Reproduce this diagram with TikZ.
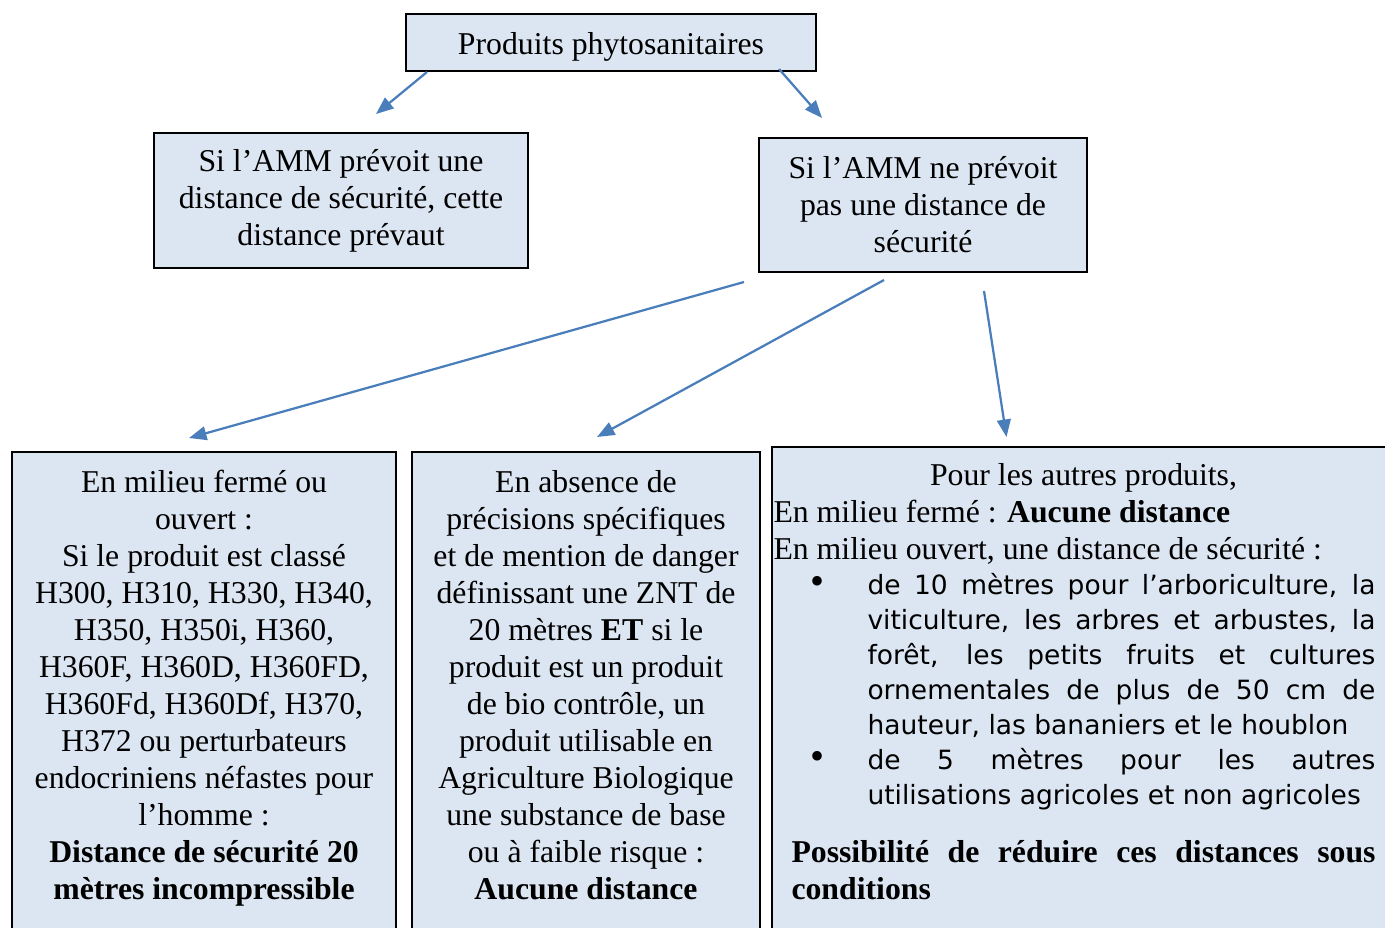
\documentclass[tikz,border=0pt]{standalone}
\usepackage{fontspec}
\setmainfont{Liberation Serif}
\setsansfont{DejaVu Sans}
\usepackage{enumitem}
\usetikzlibrary{calc,positioning,arrows.meta}
\definecolor{boxfill}{RGB}{220,230,242}
\definecolor{arrowblue}{RGB}{74,126,187}

\begin{document}
\begin{tikzpicture}[x=0.4pt,y=-0.4pt,
  font=\fontsize{12.7}{14.8}\selectfont,
  box/.style={draw=black,line width=0.8pt,fill=boxfill,inner sep=0pt,align=center},
  txt/.style={inner sep=0pt,align=center},
  link/.style={draw=arrowblue,line width=0.9pt,-{Triangle[length=7pt,width=5.5pt]}}]

\useasboundingbox (0,0) rectangle (1385,927);
\clip (0,0) rectangle (1385,927);

% upper boxes
\node[box,minimum width=164pt,minimum height=22.8pt,text height=12pt,text depth=2.4pt] (produits) at (611,42.5) {Produits phytosanitaires};
\node[box,minimum width=149.6pt,minimum height=54pt] (ammoui) at (341,200.5)
  {Si l’AMM prévoit une\\distance de sécurité, cette\\distance prévaut};
\node[box,minimum width=131.2pt,minimum height=53.6pt] (ammnon) at (923,205)
  {Si l’AMM ne prévoit\\pas une distance de\\sécurité};

% lower boxes
\node[box,anchor=north west,minimum width=153.6pt,minimum height=200pt] (ferme) at (11,451) {};
\node[box,anchor=north west,minimum width=139.2pt,minimum height=200pt] (absence) at (411,451) {};
\node[box,anchor=north west,minimum width=250pt,minimum height=200pt] (autres) at (771,446) {};

\node[txt,below=7.6pt of ferme.north] (fermetxt)
  {En milieu fermé ou\\ouvert :\\Si le produit est classé\\H300, H310, H330, H340,\\H350, H350i, H360,\\H360F, H360D, H360FD,\\H360Fd, H360Df, H370,\\H372 ou perturbateurs\\endocriniens néfastes pour\\l’homme :\\\textbf{Distance de sécurité 20}\\\textbf{mètres incompressible}};
\node[txt,below=7.6pt of absence.north] (absencetxt)
  {En absence de\\précisions spécifiques\\et de mention de danger\\définissant une ZNT de\\20 mètres \textbf{ET} si le\\produit est un produit\\de bio contrôle, un\\produit utilisable en\\Agriculture Biologique\\une substance de base\\ou à faible risque :\\\textbf{Aucune distance}};
\node[txt,anchor=north west,align=left] (autrestxt) at ($(autres.north west)+(2,17)$)
  {\begin{minipage}{240.8pt}
  \hyphenpenalty=10000
  {\centering\hspace*{7.2pt}Pour les autres produits,\par}
  En milieu fermé : \textbf{Aucune distance}\par
  En milieu ouvert, une distance de sécurité :\par
  {\sffamily\fontsize{10.6}{14}\selectfont
  \begin{itemize}[leftmargin=37.6pt,labelsep=17.2pt,topsep=0pt,itemsep=0pt,parsep=0pt,partopsep=0pt,label={\rmfamily\fontsize{16}{16}\selectfont\textbullet}]
  \item de 10 mètres pour l’arboriculture, la\linebreak viticulture, les arbres et arbustes, la\linebreak forêt, les petits fruits et cultures\linebreak ornementales de plus de 50 cm de\linebreak hauteur, las bananiers et le houblon
  \item de 5 mètres pour les autres\linebreak utilisations agricoles et non agricoles
  \end{itemize}\par}
  \vspace{8.4pt}
  {\leftskip=7.2pt\bfseries Possibilité de réduire ces distances sous\linebreak conditions\par}
  \end{minipage}};

% arrows
\draw[link] ($(produits.south)+(-184,0)$) -- ($(ammoui.north)+(35,-18)$);
\draw[link] ($(produits.south)+(168,-3)$) -- ($(ammnon.north)+(-101,-19)$);
\draw[link] ($(ammnon.south)+(-179,9)$) -- ($(ferme.north)+(-15,-13)$);
\draw[link] ($(ammnon.south)+(-39,7)$) -- ($(absence.north)+(11,-14)$);
\draw[link] ($(ammnon.south)+(61,18)$) -- ($(autres.north)+(-78,-9)$);

\end{tikzpicture}
\end{document}
